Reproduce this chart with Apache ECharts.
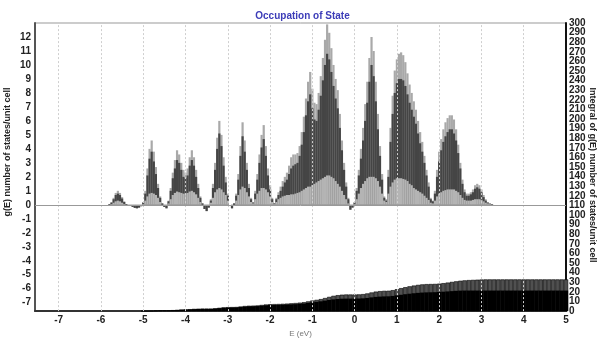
<!DOCTYPE html>
<html><head><meta charset="utf-8">
<script src="https://cdn.jsdelivr.net/npm/echarts@6/dist/echarts.min.js"></script>
<style>html,body{margin:0;padding:0;background:#fff}#c{width:605px;height:343px}</style>
</head><body><div id="c"></div>
<script>
// ---- DATA ----
const titleText = 'Occupation of State';
const leftAxisName = 'g(E) number of states/unit cell';
const rightAxisName = 'Integral of g(E) number of states/unit cell';
const xAxisName = 'E (eV)';
const xTicks = [-7,-6,-5,-4,-3,-2,-1,0,1,2,3,4,5];
const yTicks = [-7,-6,-5,-4,-3,-2,-1,0,1,2,3,4,5,6,7,8,9,10,11,12];
const rightTicksEven = [0,20,40,60,80,100,120,140,160,180,200,220,240,260,280,300];
const rightTicksOdd = [10,30,50,70,90,110,130,150,170,190,210,230,250,270,290];
const gridX = [-7,-6,-5,-4,-3,-2,-1,0,1,2,3,4];

// energy grid of the DOS (eV)
const energies = [
-5.85,-5.8,-5.75,-5.7,-5.65,-5.6,-5.55,-5.5,-5.45,-5.4,
-5.35,-5.3,-5.25,-5.2,-5.15,-5.1,-5.05,-5,-4.95,-4.9,
-4.85,-4.8,-4.75,-4.7,-4.65,-4.6,-4.55,-4.5,-4.45,-4.4,
-4.35,-4.3,-4.25,-4.2,-4.15,-4.1,-4.05,-4,-3.95,-3.9,
-3.85,-3.8,-3.75,-3.7,-3.65,-3.6,-3.55,-3.5,-3.45,-3.4,
-3.35,-3.3,-3.25,-3.2,-3.15,-3.1,-3.05,-3,-2.95,-2.9,
-2.85,-2.8,-2.75,-2.7,-2.65,-2.6,-2.55,-2.5,-2.45,-2.4,
-2.35,-2.3,-2.25,-2.2,-2.15,-2.1,-2.05,-2,-1.95,-1.9,
-1.85,-1.8,-1.75,-1.7,-1.65,-1.6,-1.55,-1.5,-1.45,-1.4,
-1.35,-1.3,-1.25,-1.2,-1.15,-1.1,-1.05,-1,-0.95,-0.9,
-0.85,-0.8,-0.75,-0.7,-0.65,-0.6,-0.55,-0.5,-0.45,-0.4,
-0.35,-0.3,-0.25,-0.2,-0.15,-0.1,-0.05,0,0.05,0.1,
0.15,0.2,0.25,0.3,0.35,0.4,0.45,0.5,0.55,0.6,
0.65,0.7,0.75,0.8,0.85,0.9,0.95,1,1.05,1.1,
1.15,1.2,1.25,1.3,1.35,1.4,1.45,1.5,1.55,1.6,
1.65,1.7,1.75,1.8,1.85,1.9,1.95,2,2.05,2.1,
2.15,2.2,2.25,2.3,2.35,2.4,2.45,2.5,2.55,2.6,
2.65,2.7,2.75,2.8,2.85,2.9,2.95,3,3.05,3.1,
3.15,3.2,3.25,3.3];

// total g(E) (light grey envelope)
const dosTotal = [
0,0.05,0.2,0.5,0.85,1.0,0.85,0.55,0.25,0.05,
-0.02,-0.08,-0.15,-0.22,-0.25,-0.2,-0.1,0.2,1.0,2.6,
4.0,4.6,3.8,2.7,1.5,0.6,0.1,-0.15,-0.25,0.3,
1.2,2.3,3.2,3.9,3.6,3.0,2.5,2.3,2.6,3.4,
3.9,3.4,2.5,1.5,0.6,0.1,-0.3,-0.45,-0.2,0.4,
1.5,3.0,4.8,6.0,5.0,3.4,2.0,0.8,0,-0.25,
0.1,0.8,2.2,4.2,5.9,4.6,3.0,1.5,0.5,0.2,
1.0,2.2,3.6,5.0,5.7,4.2,2.6,1.4,0.5,0.1,
0.5,0.9,1.3,1.7,2.0,2.3,2.8,3.4,3.6,3.6,
3.7,4.2,5.2,6.3,7.6,8.8,9.5,8.3,7.3,7.2,
8.0,9.2,10.5,11.8,12.9,12.3,11.2,10.0,9.0,8.2,
6.5,4.6,3.0,1.6,0.5,-0.35,-0.2,0.2,1.2,2.5,
4.0,5.5,7.2,8.8,10.5,12.0,11.0,8.8,6.5,4.2,
2.2,0.6,0.4,2.5,5.5,7.8,9.6,10.4,10.8,10.9,
10.7,10.2,9.4,8.6,8.0,7.4,6.8,6.0,5.2,4.5,
3.5,2.5,1.6,0.5,0.3,1.0,2.5,3.8,4.7,5.4,
5.9,6.2,6.4,6.4,6.1,5.4,4.3,3.0,1.8,1.1,
0.8,0.8,0.9,1.1,1.4,1.5,1.4,1.1,0.7,0.4,
0.2,0.1,0.05,0];

// partial g(E) (dark grey)
const dosDark = [
0,0.05,0.15,0.4,0.7,0.8,0.7,0.45,0.2,0.05,
-0.02,-0.08,-0.15,-0.22,-0.25,-0.2,-0.1,0.15,0.8,2.1,
3.3,3.8,3.1,2.2,1.2,0.5,0.1,-0.15,-0.25,0.25,
1.0,1.9,2.6,3.2,3.0,2.5,2.0,1.9,2.1,2.8,
3.2,2.8,2.0,1.2,0.5,0.1,-0.3,-0.45,-0.2,0.3,
1.2,2.5,4.0,5.1,4.2,2.8,1.6,0.65,0,-0.25,
0.1,0.65,1.8,3.5,4.9,3.8,2.5,1.2,0.4,0.15,
0.8,1.8,3.0,4.1,4.7,3.5,2.1,1.1,0.4,0.1,
0.4,0.7,1.0,1.3,1.6,1.8,2.2,2.6,2.8,2.9,
3.0,3.5,4.3,5.2,6.4,7.4,7.9,6.9,6.1,6.0,
6.8,7.8,8.9,10.0,10.8,10.4,9.5,8.5,7.6,6.9,
5.5,3.9,2.5,1.3,0.4,-0.35,-0.2,0.15,1.0,2.1,
3.3,4.6,6.0,7.3,8.8,10.0,9.2,7.4,5.4,3.5,
1.8,0.5,0.3,2.0,4.5,6.5,8.0,8.7,9.0,9.0,
8.9,8.5,7.9,7.3,6.8,6.3,5.8,5.1,4.4,3.8,
3.0,2.1,1.3,0.4,0.25,0.8,2.0,3.1,3.9,4.5,
4.9,5.2,5.4,5.4,5.1,4.6,3.7,2.6,1.5,0.9,
0.65,0.65,0.75,0.9,1.15,1.25,1.15,0.9,0.55,0.3,
0.15,0.08,0.04,0];

// lower partial g(E) (light grey, bottom)
const dosLow = [
0,0,0.05,0.15,0.25,0.3,0.25,0.15,0.05,0,
0,0,0,0,0,0,0,0.05,0.3,0.6,
0.8,0.85,0.8,0.7,0.5,0.2,0,0,0,0.1,
0.4,0.7,0.85,0.95,0.9,0.85,0.8,0.8,0.85,0.95,
1.0,0.9,0.75,0.5,0.2,0,0,0,0,0.15,
0.5,0.9,1.1,1.2,1.1,0.9,0.7,0.3,0,0,
0,0.3,0.7,1.1,1.3,1.2,0.9,0.6,0.2,0.1,
0.4,0.8,1.0,1.2,1.2,1.1,0.9,0.6,0.2,0.05,
0.2,0.4,0.5,0.6,0.65,0.7,0.7,0.75,0.75,0.8,
0.85,0.9,1.0,1.1,1.2,1.3,1.3,1.4,1.5,1.6,
1.7,1.8,1.9,2.0,2.1,2.1,2.0,1.9,1.7,1.5,
1.3,1.0,0.7,0.4,0.1,0,0,0.05,0.4,0.8,
1.2,1.5,1.7,1.9,2.0,2.0,2.0,1.9,1.7,1.3,
0.8,0.3,0.2,0.8,1.3,1.6,1.8,1.9,1.9,1.9,
1.85,1.8,1.7,1.5,1.4,1.2,1.1,1.0,0.9,0.8,
0.65,0.5,0.35,0.15,0.1,0.3,0.6,0.8,0.9,1.0,
1.05,1.1,1.1,1.1,1.1,1.0,0.9,0.7,0.5,0.35,
0.3,0.3,0.3,0.35,0.4,0.4,0.4,0.35,0.25,0.15,
0.1,0.05,0,0];

// energy grid of the integral (eV)
const intEnergies = [
-5,-4.9,-4.8,-4.7,-4.6,-4.5,-4.4,-4.3,-4.2,-4.1,
-4,-3.9,-3.8,-3.7,-3.6,-3.5,-3.4,-3.3,-3.2,-3.1,
-3,-2.9,-2.8,-2.7,-2.6,-2.5,-2.4,-2.3,-2.2,-2.1,
-2,-1.9,-1.8,-1.7,-1.6,-1.5,-1.4,-1.3,-1.2,-1.1,
-1,-0.9,-0.8,-0.7,-0.6,-0.5,-0.4,-0.3,-0.2,-0.1,
0,0.1,0.2,0.3,0.4,0.5,0.6,0.7,0.8,0.9,
1,1.1,1.2,1.3,1.4,1.5,1.6,1.7,1.8,1.9,
2,2.1,2.2,2.3,2.4,2.5,2.6,2.7,2.8,2.9,
3,3.1,3.2,3.3,3.4,3.5,3.6,3.7,3.8,3.9,
4,4.1,4.2,4.3,4.4,4.5,4.6,4.7,4.8,4.9,5];

// integral of total g(E) (hatched)
const intTotal = [
0,0,0.2,0.5,0.7,0.8,0.8,1.0,1.3,1.6,
1.8,2.0,2.3,2.5,2.6,2.6,2.6,2.9,3.4,3.9,
4.1,4.2,4.3,4.8,5.3,5.6,5.7,5.9,6.4,6.9,
7.2,7.3,7.4,7.6,7.8,8.1,8.4,8.8,9.3,10.1,
11.0,11.7,12.5,13.6,14.8,15.9,16.6,17.1,17.3,17.3,
17.3,17.4,17.7,18.4,19.4,20.3,20.8,21.1,21.2,21.8,
22.8,23.9,24.9,25.8,26.6,27.3,27.8,28.1,28.2,28.3,
28.6,29.1,29.7,30.4,31.0,31.6,32.0,32.3,32.5,32.7,
32.9,33,33,33,33,33,33,33,33,33,
33,33,33,33,33,33,33,33,33,33,33];

// integral of partial g(E) (solid black)
const intPart = [
0,0,0.2,0.4,0.6,0.7,0.7,0.9,1.1,1.4,
1.6,1.8,2.0,2.2,2.3,2.3,2.3,2.6,3.0,3.4,
3.6,3.7,3.8,4.2,4.6,4.9,5.0,5.2,5.6,6.0,
6.3,6.4,6.5,6.6,6.8,7.0,7.2,7.5,7.9,8.5,
9.1,9.6,10.2,10.9,11.6,12.2,12.6,12.9,13.0,13.0,
13.0,13.1,13.3,13.7,14.3,14.8,15.1,15.3,15.4,15.8,
16.4,17.0,17.6,18.1,18.6,19.0,19.3,19.5,19.6,19.7,
19.9,20.2,20.5,20.8,21.1,21.3,21.4,21.4,21.4,21.4,
21.4,21.4,21.4,21.4,21.4,21.4,21.4,21.4,21.4,21.4,
21.4,21.4,21.4,21.4,21.4,21.4,21.4,21.4,21.4,21.4,21.4];

// ---- CHART ----
const pair = (xs, ys) => xs.map((x, i) => [x, ys[i]]);
const FONT = 'Liberation Sans, Arial, sans-serif';
const chart = echarts.init(document.getElementById('c'));
const lblStyle = { fontFamily: FONT, fontSize: 10, fontWeight: 'bold', color: '#222' };

chart.setOption({
  animation: false,
  title: { text: titleText, left: 'center', top: 6,
    textStyle: { fontFamily: FONT, fontSize: 10, fontWeight: 'bold', color: '#3c3cb8' } },
  grid: { left: 35, right: 39, top: 23, bottom: 17, show: true, borderColor: '#999', borderWidth: 1 },
  xAxis: [
    { type: 'value', min: -7.56, max: 5,
      axisLine: { show: true, onZero: false, lineStyle: { color: '#333', width: 2 } },
      axisTick: { show: false },
      splitLine: { show: false },
      axisLabel: Object.assign({ customValues: xTicks, margin: 4 }, lblStyle),
      name: xAxisName, nameLocation: 'middle', nameGap: 17,
      nameTextStyle: { fontFamily: FONT, fontSize: 8, color: '#777' } },
    { type: 'value', min: -7.56, max: 5, show: false }
  ],
  yAxis: [
    { type: 'value', min: -7.6, max: 13, position: 'left',
      axisLine: { show: true, onZero: false, lineStyle: { color: '#555', width: 2 } },
      axisTick: { show: false }, splitLine: { show: false },
      axisLabel: Object.assign({ customValues: yTicks, margin: 4 }, lblStyle) },
    { type: 'value', min: 0, max: 300, position: 'right',
      axisLine: { show: true, onZero: false, lineStyle: { color: '#111', width: 2 } },
      axisTick: { show: false }, splitLine: { show: false },
      axisLabel: Object.assign({ margin: 3, customValues: rightTicksEven, showMinLabel: true, showMaxLabel: true }, lblStyle) },
    { type: 'value', min: 0, max: 300, position: 'right',
      axisLine: { show: false }, axisTick: { show: false }, splitLine: { show: false },
      axisLabel: Object.assign({ margin: 3, customValues: rightTicksOdd, showMinLabel: true, showMaxLabel: true }, lblStyle) }
  ],
  graphic: [
    { type: 'text', rotation: Math.PI / 2, x: 8, y: 152,
      style: { text: leftAxisName, font: 'bold 9px ' + FONT, fill: '#222', textAlign: 'center', textVerticalAlign: 'middle' } },
    { type: 'text', rotation: -Math.PI / 2, x: 592, y: 175,
      style: { text: rightAxisName, font: 'bold 9px ' + FONT, fill: '#222', textAlign: 'center', textVerticalAlign: 'middle' } }
  ],
  series: [
    { type: 'line', xAxisIndex: 0, yAxisIndex: 0, data: [], silent: true,
      markLine: { silent: true, symbol: ['none', 'none'], label: { show: false }, animation: false,
        lineStyle: { color: '#cfcfcf', type: [2, 2], width: 1 },
        data: gridX.map(v => ({ xAxis: v })).concat([{ yAxis: 0, lineStyle: { color: '#999', type: 'solid', width: 1 } }]) } },
    { name: 'intTotal', type: 'bar', xAxisIndex: 1, yAxisIndex: 1, barWidth: 4.3, barGap: '-100%',
      data: pair(intEnergies, intTotal),
      itemStyle: { color: '#505050', borderColor: '#000', borderWidth: 0.6 } },
    { name: 'intPart', type: 'bar', xAxisIndex: 1, yAxisIndex: 1, barWidth: 4.3, barGap: '-100%',
      data: pair(intEnergies, intPart), itemStyle: { color: '#000' } },
    { name: 'total', type: 'bar', xAxisIndex: 0, yAxisIndex: 0, barWidth: 2.2, barGap: '-100%',
      data: pair(energies, dosTotal), itemStyle: { color: '#a9a9a9' } },
    { name: 'dark', type: 'bar', xAxisIndex: 0, yAxisIndex: 0, barWidth: 2.2, barGap: '-100%',
      data: pair(energies, dosDark), itemStyle: { color: '#454545' } },
    { name: 'low', type: 'bar', xAxisIndex: 0, yAxisIndex: 0, barWidth: 2.2, barGap: '-100%',
      data: pair(energies, dosLow), itemStyle: { color: '#b4b4b4' } }
  ]
});
</script>
</body></html>
